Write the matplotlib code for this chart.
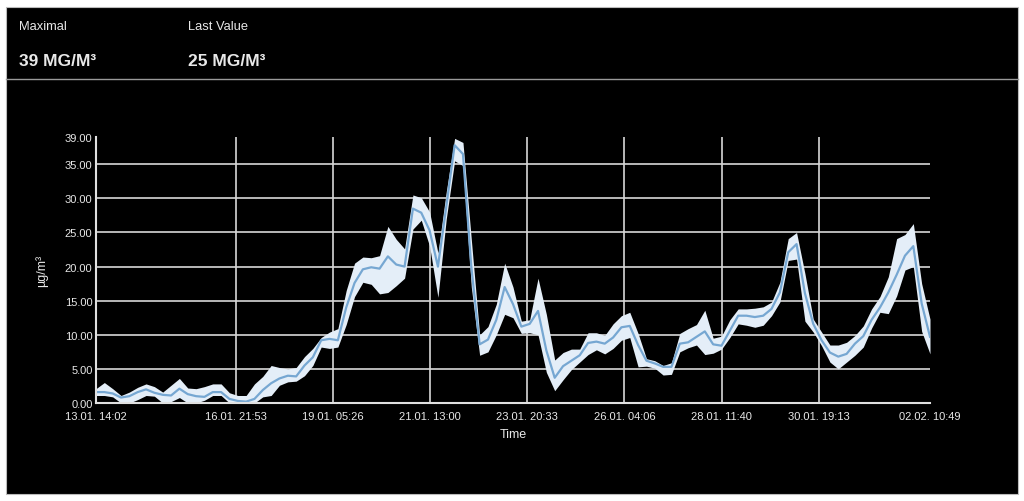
import matplotlib
matplotlib.use("Agg")
import matplotlib.pyplot as plt
from matplotlib.patches import Rectangle
from matplotlib.lines import Line2D
import pandas as pd

plt.rcParams['font.family'] = ['Liberation Sans', 'DejaVu Sans']

# ---- data ----
start_time = "2021-01-13 14:02"
end_time = "2021-02-02 10:49"

mean_vals = [1.6, 1.6, 1.4, 0.8, 1.0, 1.6, 2.0, 1.5, 1.2, 1.1,
             2.1, 1.3, 1.0, 0.9, 1.6, 1.6, 0.6, 0.3, 0.2, 0.6,
             1.9, 2.9, 3.6, 4.0, 3.9, 5.5, 6.7, 9.2, 9.4, 9.2,
             14.0, 17.6, 19.6, 19.9, 19.7, 21.5, 20.3, 20.0, 28.5, 27.9,
             25.3, 20.0, 28.8, 37.8, 36.5, 20.0, 8.6, 9.3, 12.2, 17.0,
             14.5, 11.2, 11.6, 13.5, 7.7, 3.7, 5.4, 6.2, 7.0, 8.8,
             9.0, 8.7, 9.6, 11.1, 11.3, 8.5, 6.2, 5.8, 5.3, 5.3,
             8.7, 8.9, 9.7, 10.5, 8.6, 8.4, 10.6, 12.8, 12.8, 12.6,
             12.8, 13.8, 16.2, 22.1, 23.3, 16.1, 11.6, 9.2, 7.4, 6.8,
             7.2, 8.7, 9.8, 12.2, 14.0, 16.2, 18.8, 21.6, 23.0, 14.6,
             9.7]

low_vals = [1.1, 1.1, 0.9, 0.0, 0.0, 0.5, 1.1, 1.0, 0.0, 0.2,
            0.8, 0.0, 0.0, 0.4, 1.1, 1.1, 0.0, 0.0, 0.0, 0.0,
            0.9, 1.1, 2.6, 3.1, 3.2, 4.0, 5.5, 8.2, 8.0, 8.2,
            11.5, 15.6, 17.7, 17.4, 16.0, 16.2, 17.2, 18.3, 25.5, 26.8,
            23.0, 15.5, 27.0, 35.5, 34.8, 17.0, 7.0, 7.5, 10.0, 13.0,
            12.5, 10.2, 10.3, 10.0, 4.5, 1.8, 3.4, 4.9, 6.0, 7.1,
            7.8, 7.2, 8.0, 9.2, 9.6, 5.3, 5.4, 5.1, 4.1, 4.2,
            7.5, 8.1, 8.5, 7.1, 7.3, 7.9, 9.6, 11.6, 11.4, 11.1,
            11.4, 12.8, 14.8, 20.9, 21.1, 12.0, 10.4, 8.4, 6.0, 5.0,
            6.0, 7.0, 8.2, 11.0, 13.3, 13.1, 15.7, 19.5, 20.0, 10.5,
            7.2]

high_vals = [2.1, 3.0, 2.1, 1.1, 1.6, 2.3, 2.8, 2.4, 1.6, 2.6,
             3.6, 2.2, 2.1, 2.4, 2.8, 2.8, 1.5, 1.1, 1.1, 2.8,
             3.9, 5.5, 5.2, 5.0, 5.2, 6.8, 8.0, 9.6, 10.4, 10.9,
             16.5, 20.5, 21.4, 21.3, 21.6, 25.9, 24.0, 22.6, 30.5, 30.1,
             28.0, 22.0, 31.0, 38.8, 38.2, 24.0, 10.0, 11.2, 14.5, 20.5,
             17.0, 12.0, 12.2, 18.3, 13.0, 6.3, 7.4, 7.9, 7.9, 10.3,
             10.3, 9.9, 11.6, 12.8, 13.3, 10.2, 6.5, 6.2, 5.5, 5.9,
             10.2, 10.9, 11.5, 13.6, 9.5, 9.8, 12.2, 13.8, 13.8, 13.9,
             14.1, 14.8, 17.7, 24.1, 25.0, 19.0, 12.3, 10.4, 8.5, 8.5,
             8.9, 9.9, 11.3, 13.8, 15.6, 18.5, 24.1, 24.7, 26.3, 17.5,
             12.3]

tick_times = ["2021-01-13 14:02", "2021-01-16 21:53", "2021-01-19 05:26",
              "2021-01-21 13:00", "2021-01-23 20:33", "2021-01-26 04:06",
              "2021-01-28 11:40", "2021-01-30 19:13", "2021-02-02 10:49"]
tick_labels = ["13.01. 14:02", "16.01. 21:53", "19.01. 05:26", "21.01. 13:00",
               "23.01. 20:33", "26.01. 04:06", "28.01. 11:40", "30.01. 19:13",
               "02.02. 10:49"]
y_ticks = [0, 5, 10, 15, 20, 25, 30, 35, 39]

max_label = "39 MG/M³"
last_label = "25 MG/M³"

# ---- figure ----
times = pd.date_range(start_time, end_time, periods=len(mean_vals))
tick_pos = pd.to_datetime(tick_times)

W, H = 1024, 502
fig = plt.figure(figsize=(W / 100, H / 100), dpi=100, facecolor="white")

# black panel
fig.patches.append(Rectangle((6 / W, 1 - 495 / H), (1018 - 6) / W, (495 - 8) / H,
                             transform=fig.transFigure, facecolor="black",
                             edgecolor="#bbbbbb", linewidth=0.8, zorder=-10))
fig.lines.append(Line2D([6 / W, 1018 / W], [1 - 80 / H, 1 - 80 / H],
                        transform=fig.transFigure, color="#9a9a9a", linewidth=1.0,
                        zorder=-5))

txt = "#e8e8e8"
fig.text(19 / W, 1 - 27 / H, "Maximal", color=txt, fontsize=9.3, va="center", ha="left")
fig.text(188 / W, 1 - 27 / H, "Last Value", color=txt, fontsize=9.3, va="center", ha="left")
fig.text(19 / W, 1 - 62 / H, max_label, color=txt, fontsize=12.5, fontweight="bold",
         va="center", ha="left")
fig.text(188 / W, 1 - 62 / H, last_label, color=txt, fontsize=12.5, fontweight="bold",
         va="center", ha="left")

ax = fig.add_axes([96 / W, 1 - 404 / H, (930 - 96) / W, (404 - 138) / H], zorder=2)
ax.set_facecolor("black")

ax.fill_between(times, low_vals, high_vals, color="#e4eef8", linewidth=0, zorder=2)
ax.plot(times, mean_vals, color="#76a7d2", linewidth=1.6, zorder=3)

ax.set_xlim(times[0], times[-1])
ax.set_ylim(0, 39)

ax.set_xticks(tick_pos)
ax.set_xticklabels(tick_labels)
ax.set_yticks(y_ticks)
ax.set_yticklabels([f"{v:.2f}" for v in y_ticks])

grid_c = "#d8d8d8"
for t in tick_pos[1:-1]:
    ax.axvline(t, color=grid_c, linewidth=1.2, zorder=1)
for v in y_ticks[1:-1]:
    ax.axhline(v, color=grid_c, linewidth=1.2, zorder=1)

for s in ["top", "right"]:
    ax.spines[s].set_visible(False)
for s in ["left", "bottom"]:
    ax.spines[s].set_color("#e0e0e0")
    ax.spines[s].set_linewidth(1.5)
    ax.spines[s].set_zorder(4)

ax.tick_params(axis="both", length=0, colors=txt, labelsize=8)
ax.tick_params(axis="x", pad=5.5)
ax.tick_params(axis="y", pad=2.5)
ax.set_xlabel("Time", color=txt, fontsize=9, labelpad=5)
ax.set_ylabel("µg/m³", color=txt, fontsize=9, labelpad=12)

fig.savefig("out.png", dpi=100, facecolor=fig.get_facecolor())
